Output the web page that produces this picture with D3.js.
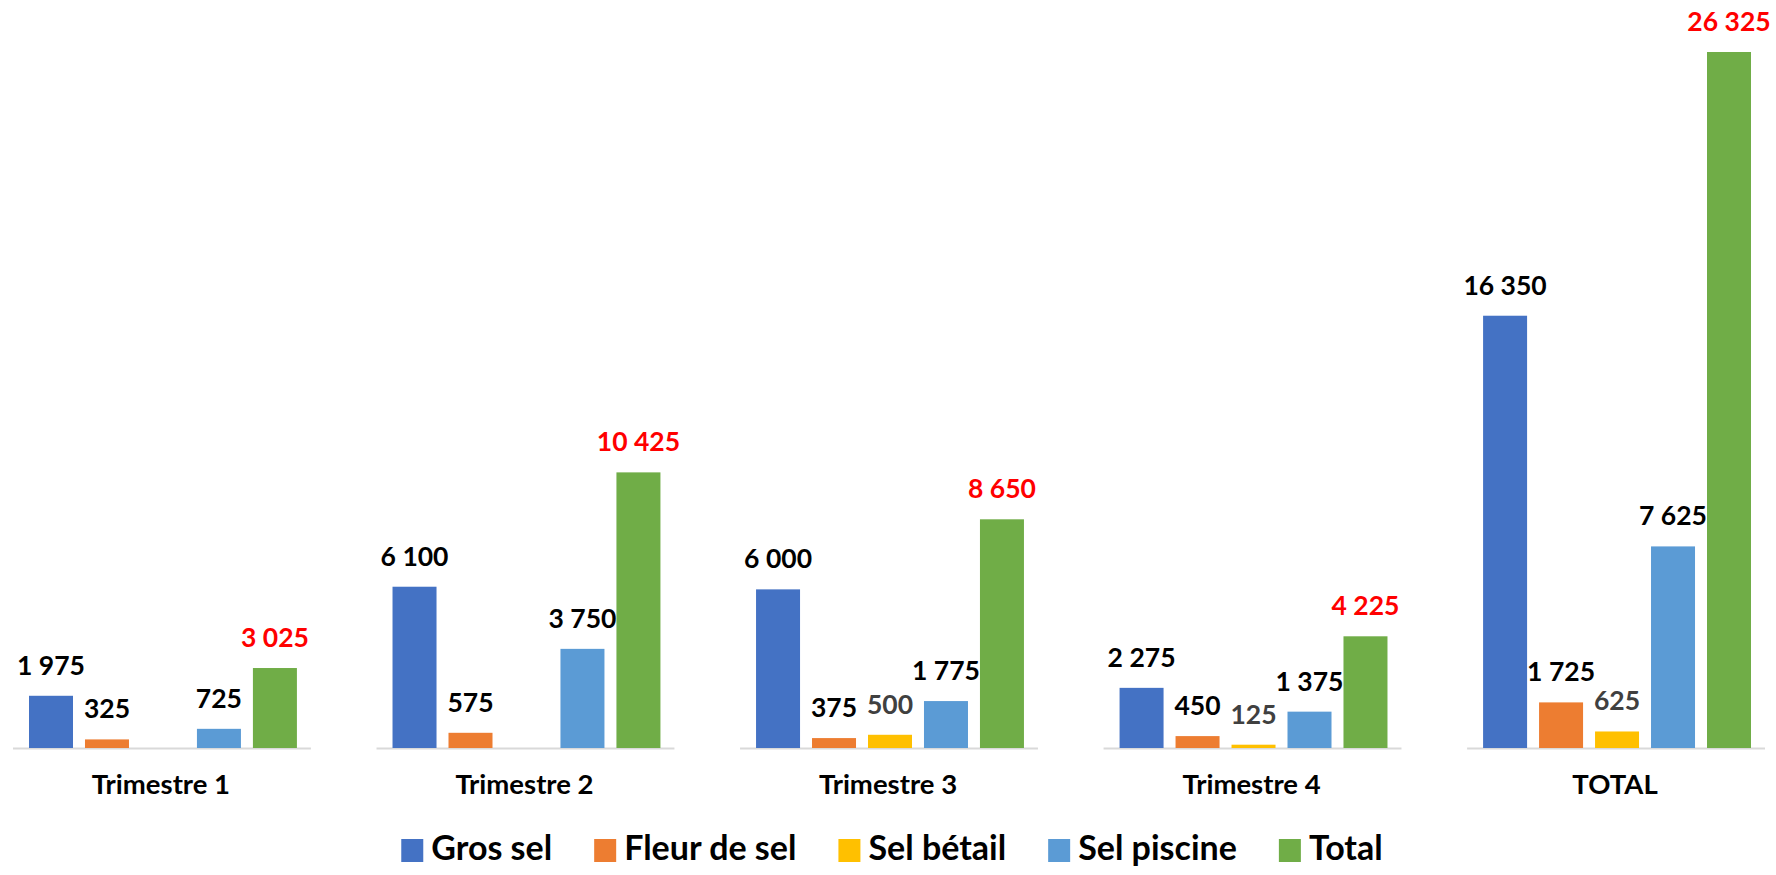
<!DOCTYPE html>
<html>
<head>
<meta charset="utf-8">
<script src="https://cdn.jsdelivr.net/npm/d3@7"></script>
<style>
  html, body { margin: 0; padding: 0; background: #ffffff; }
  svg { display: block; }
  text { font-family: Lato, "Open Sans", sans-serif; font-weight: 700; }
</style>
</head>
<body>
<svg id="chart" width="1776" height="875"></svg>
<script>
// ---- Data ----
const categories = ["Trimestre 1", "Trimestre 2", "Trimestre 3", "Trimestre 4", "TOTAL"];
const seriesNames = ["Gros sel", "Fleur de sel", "Sel bétail", "Sel piscine", "Total"];
const grosSel    = [1975, 6100, 6000, 2275, 16350];
const fleurDeSel = [325, 575, 375, 450, 1725];
const selBetail  = [0, 0, 500, 125, 625];
const selPiscine = [725, 3750, 1775, 1375, 7625];
const total      = [3025, 10425, 8650, 4225, 26325];

const seriesValues = [grosSel, fleurDeSel, selBetail, selPiscine, total];
const colors = ["#4472C4", "#ED7D31", "#FFC000", "#5B9BD5", "#70AD47"];
const labelColors = ["#000000", "#000000", "#404040", "#000000", "#FF0000"];

// ---- Layout ----
const svg = d3.select("#chart");
const baseY = 748, topY = 52;

const x0 = d3.scaleBand().domain(categories).range([29, 1751]).paddingInner(0.263).paddingOuter(0);
const x1 = d3.scaleBand().domain(seriesNames).range([0, x0.bandwidth()]).paddingInner(0.214).paddingOuter(0);
const y = d3.scaleLinear().domain([0, d3.max(total)]).range([baseY, topY]);

const fmt = v => d3.format(",")(v).replace(/,/g, " ");

const rows = categories.map((c, i) => ({
  cat: c,
  vals: seriesNames.map((s, j) => ({ series: s, j, value: seriesValues[j][i] }))
}));

const groups = svg.selectAll("g.grp").data(rows).join("g")
  .attr("class", "grp")
  .attr("transform", d => `translate(${x0(d.cat)},0)`);

groups.append("line")
  .attr("x1", -16).attr("x2", x0.bandwidth() + 14)
  .attr("y1", baseY + 0.5).attr("y2", baseY + 0.5)
  .attr("stroke", "#d9d9d9").attr("stroke-width", 2);

groups.selectAll("rect").data(d => d.vals.filter(v => v.value > 0)).join("rect")
  .attr("x", d => x1(d.series))
  .attr("width", x1.bandwidth())
  .attr("y", d => y(d.value))
  .attr("height", d => baseY - y(d.value))
  .attr("fill", d => colors[d.j]);

groups.selectAll("text.val").data(d => d.vals.filter(v => v.value > 0)).join("text")
  .attr("class", "val")
  .attr("x", d => x1(d.series) + x1.bandwidth() / 2)
  .attr("y", d => y(d.value) - 21)
  .attr("text-anchor", "middle")
  .attr("font-size", 26.5)
  .attr("fill", d => labelColors[d.j])
  .text(d => fmt(d.value));

svg.selectAll("text.cat").data(categories).join("text")
  .attr("class", "cat")
  .attr("x", d => x0(d) + x0.bandwidth() / 2 - 2)
  .attr("y", 794)
  .attr("text-anchor", "middle")
  .attr("font-size", 27.5)
  .attr("fill", "#000")
  .text(d => d);

const legend = svg.append("g");
const items = legend.selectAll("g").data(seriesNames).join("g");
items.append("rect").attr("width", 22).attr("height", 23).attr("y", 839)
  .attr("fill", (d, i) => colors[i]);
items.append("text").attr("y", 860).attr("font-size", 34).attr("fill", "#000").text(d => d);
let cx = 0;
items.each(function() {
  const g = d3.select(this);
  const w = g.select("text").node().getComputedTextLength();
  g.select("rect").attr("x", cx);
  g.select("text").attr("x", cx + 30);
  cx += 30 + w + 42;
});
const legendWidth = cx - 42;
legend.attr("transform", `translate(${892 - legendWidth / 2},0)`);
</script>
</body>
</html>
